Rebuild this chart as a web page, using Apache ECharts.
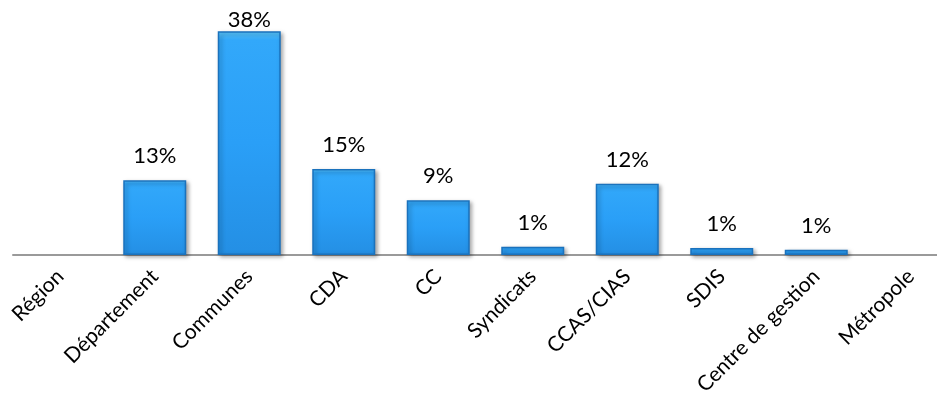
<!DOCTYPE html>
<html>
<head>
<meta charset="utf-8">
<style>
  html, body { margin: 0; padding: 0; background: #fff; overflow: hidden; }
  #chart { width: 958px; height: 406px; }
</style>
<script src="https://cdn.jsdelivr.net/npm/echarts@6/dist/echarts.min.js"></script>
</head>
<body>
<div id="chart"></div>
<script>
const categories = ['Région', 'Département', 'Communes', 'CDA', 'CC', 'Syndicats', 'CCAS/CIAS', 'SDIS', 'Centre de gestion', 'Métropole']
const shares = [0, 12.7, 38, 14.6, 9.3, 1.4, 12.1, 1.2, 0.9, 0]

// la zone du graphique déborde un peu à droite de la fenêtre, comme l'original
const chart = echarts.init(document.getElementById('chart'))
const topValue = Math.max(...shares)

chart.setOption({
  animation: false,
  textStyle: { fontFamily: 'Lato' },
  grid: {
    top: 19.4,
    bottom: 151,
    left: 13,
    right: 0,
    containLabel: false
  },
  xAxis: {
    type: 'category',
    data: categories,
    axisLine: { lineStyle: { color: '#9a9a9a', width: 2 } },
    axisTick: { show: false },
    axisLabel: {
      rotate: 45,
      interval: 0,
      margin: 18,
      fontSize: 21,
      color: '#000',
      fontFamily: 'Lato'
    }
  },
  yAxis: {
    type: 'value',
    min: 0,
    max: 40,
    show: false,
    splitLine: { show: false }
  },
  series: [{
    type: 'bar',
    barWidth: 63,
    data: shares.map(v => ({
      value: v > 0 ? v : '-',
      label: v === topValue ? { distance: 0 } : undefined
    })),
    itemStyle: {
      color: new echarts.graphic.LinearGradient(0, 0, 0, 1, [
        { offset: 0, color: '#5ccaff' },
        { offset: 0.04, color: '#32a8fa' },
        { offset: 0.5, color: '#2a9ff7' },
        { offset: 1, color: '#248fe4' }
      ]),
      borderColor: '#1a72bd',
      borderWidth: 1.5,
      shadowBlur: 4,
      shadowColor: 'rgba(0,0,0,0.35)',
      shadowOffsetX: 2,
      shadowOffsetY: 2
    },
    label: {
      show: true,
      position: 'top',
      distance: 13,
      fontSize: 22,
      color: '#000',
      fontFamily: 'Lato',
      formatter: p => Math.round(p.value) + '%'
    }
  }]
})
</script>
</body>
</html>
